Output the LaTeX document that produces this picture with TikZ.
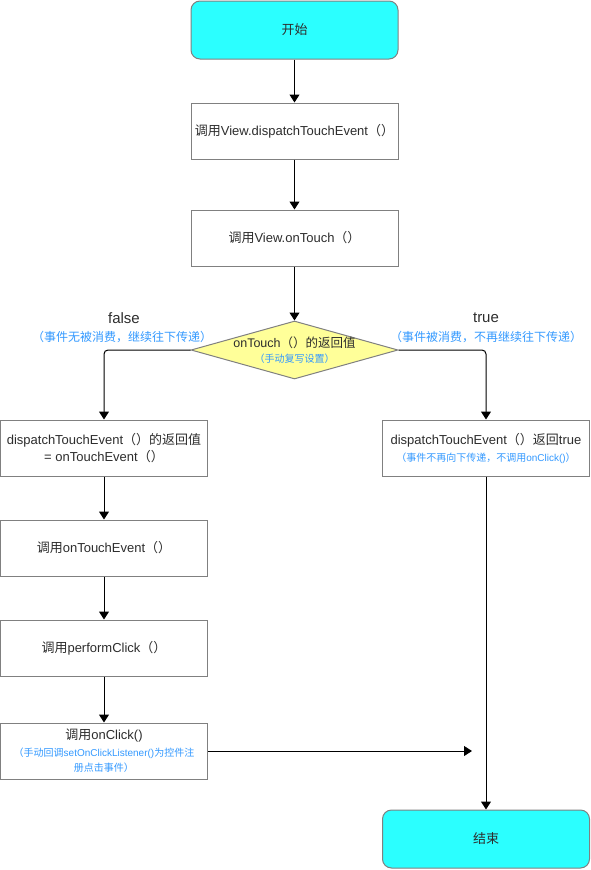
\documentclass[tikz,border=0pt]{standalone}
\usepackage{fontspec}
\setmainfont{Liberation Sans}
\newfontfamily\cjkfont{Noto Sans CJK SC}
\usetikzlibrary{shapes.geometric,arrows.meta}
\definecolor{termcyan}{RGB}{43,255,255}
\definecolor{decyellow}{RGB}{255,255,153}
\definecolor{noteblue}{RGB}{51,153,255}
\definecolor{boxgray}{RGB}{128,128,128}
\definecolor{textgray}{RGB}{45,45,45}
\newcommand{\notetext}[2][10]{{\color{noteblue}\fontsize{#1}{#1}\selectfont #2}}

% switch to the CJK font for Chinese characters
\newcount\cjkchar
\def\setcjkrange#1#2{\cjkchar=#1 \loop\XeTeXcharclass\cjkchar=7 \advance\cjkchar by 1 \ifnum\cjkchar<#2 \repeat}
\setcjkrange{"3000}{"3040}
\setcjkrange{"4E00}{"A000}
\setcjkrange{"FF00}{"FFF0}
\XeTeXinterchartokenstate=1
\XeTeXinterchartoks 0 7 = {\cjkfont}
\XeTeXinterchartoks 4095 7 = {\cjkfont}
\XeTeXinterchartoks 7 0 = {\rmfamily}
\XeTeXinterchartoks 7 4095 = {\rmfamily}

\begin{document}
\begin{tikzpicture}[x=1pt,y=-1pt, text=textgray]
    \tikzstyle{procbox} = [rectangle, draw=boxgray, line width=1pt, fill=white, inner sep=0pt, minimum width=207pt, minimum height=56pt, align=center, font=\fontsize{13}{17}\selectfont]
    \tikzstyle{termbox} = [procbox, rounded corners=9pt, fill=termcyan, minimum height=58pt]
    \tikzstyle{decision} = [diamond, draw=boxgray, line width=1pt, fill=decyellow, inner sep=0pt, minimum width=207pt, minimum height=58pt]
    \tikzstyle{flow} = [draw=black, line width=1pt, -{Triangle[width=10pt,length=8pt]}, rounded corners=4pt]

    \useasboundingbox (0,0) rectangle (590,870);

    % Main column
    \node[termbox] (start) at (294.5,30) {开始};
    \node[procbox] (dispatch) at (294.5,131) {调用View.dispatchTouchEvent（）};
    \node[procbox] (ontouch) at (294.5,238) {调用View.onTouch（）};
    \node[decision] (ret) at (294.5,350) {};
    \node[align=center, font=\fontsize{12.5}{15}\selectfont] (retlbl) at (294.5,350) {onTouch（）的返回值\\\notetext{（手动复写设置）}};

    % Branch labels
    \node[font=\fontsize{15}{18}\selectfont] (falselbl) at (124,318) {false};
    \node (falsenote) at (122,337) {\notetext[12]{（事件无被消费，继续往下传递）}};
    \node[font=\fontsize{15}{18}\selectfont] (truelbl) at (486,318) {true};
    \node (truenote) at (486,337) {\notetext[12]{（事件被消费，不再继续往下传递）}};

    % false branch
    \node[procbox] (lret) at (104,448) {dispatchTouchEvent（）的返回值\\= onTouchEvent（）};
    \node[procbox] (lcall) at (104,548) {调用onTouchEvent（）};
    \node[procbox] (lperf) at (104,648) {调用performClick（）};
    \node[procbox] (lclick) at (104,751) {调用onClick()\\\notetext{（手动回调setOnClickListener()为控件注}\\[-2pt]\notetext{册点击事件）}};
    \coordinate (clickend) at (472,751);

    % true branch
    \node[procbox] (rret) at (486,448) {dispatchTouchEvent（）返回true\\\notetext{（事件不再向下传递，不调用onClick()）}};
    \node[termbox] (stop) at (486,839) {结束};

    % Connectors
    \draw[flow] (start) -- (dispatch);
    \draw[flow] (dispatch) -- (ontouch);
    \draw[flow] (ontouch) -- (ret);
    \draw[flow] (ret.west) -| (lret.north);
    \draw[flow] (ret.east) -| (rret.north);
    \draw[flow] (lret) -- (lcall);
    \draw[flow] (lcall) -- (lperf);
    \draw[flow] (lperf) -- (lclick);
    \draw[flow] (lclick.east) -- (clickend);
    \draw[flow] (rret) -- (stop);
\end{tikzpicture}
\end{document}
